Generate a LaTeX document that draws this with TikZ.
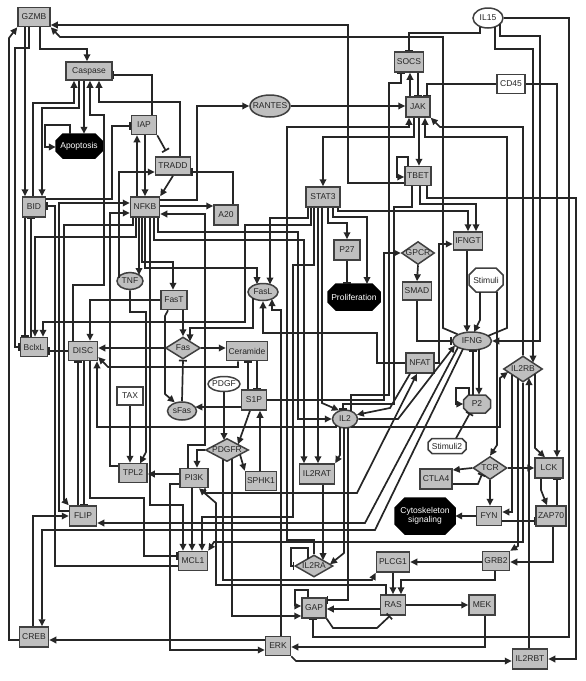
\documentclass[tikz,border=0pt]{standalone}
\usepackage{fontspec}
\setmainfont{Liberation Sans}
\usetikzlibrary{arrows.meta,shapes.geometric}
\newcommand\myoct[6]{\filldraw[#6] ({#1-#3/2+#5},{#2-#4/2}) -- ({#1+#3/2-#5},{#2-#4/2}) -- ({#1+#3/2},{#2-#4/2+#5}) -- ({#1+#3/2},{#2+#4/2-#5}) -- ({#1+#3/2-#5},{#2+#4/2}) -- ({#1-#3/2+#5},{#2+#4/2}) -- ({#1-#3/2},{#2+#4/2-#5}) -- ({#1-#3/2},{#2-#4/2+#5}) -- cycle;}
\begin{document}
\begin{tikzpicture}[x=1pt,y=-1pt,
  every node/.style={font=\fontsize{8.5}{9.5}\selectfont, text=black!85},
  sz/.style 2 args={minimum width=#1, minimum height=#2},
  bx/.style={rectangle, draw=black!75, line width=1.5pt, fill=gray!50, inner sep=0pt},
  wbx/.style={bx, fill=white},
  el/.style={ellipse, draw=black!75, line width=1.5pt, fill=gray!50, inner sep=0pt},
  wel/.style={el, fill=white},
  dia/.style={diamond, draw=black!75, line width=1.5pt, fill=gray!50, inner sep=0pt},
  octg/.style={draw=black!75, line width=1.5pt, fill=gray!50},
  octw/.style={draw=black!75, line width=1.5pt, fill=white},
  octb/.style={draw=black, line width=1.5pt, fill=black},
  onode/.style={rectangle, inner sep=0pt, align=center},
  ln/.style={draw=black!85, line width=1.7pt},
  act/.style={ln, -{Triangle[length=7pt,width=6.5pt]}},
  inh/.style={ln, -{Bar[width=8pt]}}]
\useasboundingbox (0,0) rectangle (586,681);

% ---------- nodes ----------
\node[bx,sz={32pt}{19pt}] (GZMB) at (34,17) {GZMB};
\node[bx,sz={46pt}{18pt}] (Casp) at (89,71) {Caspase};
\myoct{79}{146}{46}{24}{7}{octb}
\node[onode,sz={46pt}{24pt},text=white] (Apop) at (79,146) {Apoptosis};
\node[bx,sz={25pt}{19pt}] (IAP) at (144,125) {IAP};
\node[bx,sz={35pt}{18pt}] (TRADD) at (173,166) {TRADD};
\node[el,sz={40pt}{22pt},label=center:RANTES] (RANTES) at (270,106) {};
\node[bx,sz={23pt}{20pt}] (BID) at (34,207) {BID};
\node[bx,sz={29pt}{20pt}] (NFKB) at (145,207) {NFKB};
\node[bx,sz={24pt}{20pt}] (A20) at (226,215) {A20};
\node[wel,sz={30pt}{20pt},label=center:IL15] (IL15) at (488,18) {};
\node[bx,sz={29pt}{20pt}] (SOCS) at (409,62) {SOCS};
\node[wbx,sz={28pt}{19pt}] (CD45) at (511,84) {CD45};
\node[bx,sz={24pt}{20pt}] (JAK) at (418,107) {JAK};
\node[bx,sz={26pt}{19pt}] (TBET) at (418,176) {TBET};
\node[bx,sz={34pt}{20pt}] (STAT3) at (323,197) {STAT3};
\node[bx,sz={26pt}{20pt}] (P27) at (347,250) {P27};
\myoct{354}{297}{52}{26}{8}{octb}
\node[onode,sz={52pt}{26pt},text=white] (Prolif) at (354,297) {Proliferation};
\node[dia,sz={33pt}{23pt},label=center:GPCR] (GPCR) at (418,253) {};
\node[bx,sz={29pt}{18pt}] (SMAD) at (417,291) {SMAD};
\node[bx,sz={29pt}{18pt}] (IFNGT) at (468,241) {IFNGT};
\myoct{486}{280}{34}{24}{7}{octw}
\node[onode,sz={34pt}{24pt}] (Stim) at (486,280) {Stimuli};
\node[el,sz={39pt}{18pt},label=center:IFNG] (IFNG) at (472,341) {};
\node[bx,sz={28pt}{20pt}] (NFAT) at (420,363) {NFAT};
\node[dia,sz={39pt}{26pt},label=center:IL2RB] (IL2RB) at (523,369) {};
\myoct{477}{404}{27}{18}{5}{octg}
\node[onode,sz={27pt}{18pt}] (P2) at (477,404) {P2};
\node[el,sz={25pt}{18pt},label=center:IL2] (IL2) at (345,419) {};
\myoct{447}{446}{38}{15}{4}{octw}
\node[onode,sz={38pt}{15pt}] (Stim2) at (447,446) {Stimuli2};
\node[el,sz={26pt}{17pt},label=center:TNF] (TNF) at (130,281) {};
\node[bx,sz={26pt}{19pt}] (FasT) at (174,300) {FasT};
\node[el,sz={30pt}{17pt},label=center:FasL] (FasL) at (263,292) {};
\node[bx,sz={27pt}{19pt}] (BclxL) at (34,347) {BclxL};
\node[bx,sz={29pt}{19pt}] (DISC) at (83,351) {DISC};
\node[dia,sz={35pt}{22pt},label=center:Fas] (Fas) at (183,348) {};
\node[bx,sz={41pt}{19pt}] (Ceram) at (247,351) {Ceramide};
\node[wel,sz={32pt}{15pt},label=center:PDGF] (PDGF) at (224,384) {};
\node[wbx,sz={26pt}{18pt}] (TAX) at (130,396) {TAX};
\node[bx,sz={25pt}{20pt}] (S1P) at (254,400) {S1P};
\node[el,sz={29pt}{18pt},label=center:sFas] (sFas) at (182,411) {};
\node[dia,sz={43pt}{23pt},label=center:PDGFR] (PDGFR) at (227,450) {};
\node[bx,sz={28pt}{19pt}] (TPL2) at (133,473) {TPL2};
\node[bx,sz={28pt}{19pt}] (PI3K) at (194,478) {PI3K};
\node[bx,sz={31pt}{19pt}] (SPHK1) at (261,481) {SPHK1};
\node[bx,sz={35pt}{20pt}] (IL2RAT) at (317,474) {IL2RAT};
\node[dia,sz={34pt}{23pt},label=center:TCR] (TCR) at (490,468) {};
\node[bx,sz={32pt}{20pt}] (CTLA4) at (436,479) {CTLA4};
\node[bx,sz={28pt}{20pt}] (LCK) at (549,468) {LCK};
\myoct{425}{516}{60}{36}{10}{octb}
\node[onode,sz={60pt}{36pt},text=white] (Cyto) at (425,516) {Cytoskeleton\\signaling};
\node[bx,sz={25pt}{19pt}] (FYN) at (489,516) {FYN};
\node[bx,sz={30pt}{20pt}] (ZAP70) at (551,516) {ZAP70};
\node[bx,sz={27pt}{20pt}] (FLIP) at (83,516) {FLIP};
\node[bx,sz={29pt}{19pt}] (MCL1) at (193,561) {MCL1};
\node[dia,sz={38pt}{22pt},label=center:IL2RA] (IL2RA) at (314,566) {};
\node[bx,sz={33pt}{20pt}] (PLCG1) at (393,562) {PLCG1};
\node[bx,sz={27pt}{19pt}] (GRB2) at (496,561) {GRB2};
\node[bx,sz={24pt}{20pt}] (GAP) at (314,608) {GAP};
\node[bx,sz={25pt}{20pt}] (RAS) at (393,605) {RAS};
\node[bx,sz={26pt}{20pt}] (MEK) at (482,605) {MEK};
\node[bx,sz={29pt}{20pt}] (CREB) at (34,637) {CREB};
\node[bx,sz={25pt}{19pt}] (ERK) at (278,646) {ERK};
\node[bx,sz={35pt}{20pt}] (IL2RBT) at (530,659) {IL2RBT};

% ---------- GZMB / Caspase / Apoptosis ----------
\draw[act] (TBET.west |- 0,183) -- (348,183) -- (348,25) -- (GZMB.east |- 0,25);
\draw[act] (IFNG.155) -- (443,328) -- (443,37) -- (60,37) -- (GZMB.south east);
\draw[act] (CREB.west |- 0,640) -- (9,640) -- (9,38) -- (GZMB.south west);
\draw[act] (GZMB.south -| 40,0) -- (40,49) -- (87,49) -- (Casp.north -| 87,0);
\draw[act] (GZMB.south -| 25,0) -- (BID.north -| 25,0);
\draw[inh] (GZMB.south -| 29,0) -- (29,48) -- (15,48) -- (15,347) -- (BclxL.west |- 0,347);
\draw[act] (BID.north -| 33,0) -- (33,103) -- (74,103) -- (Casp.south -| 74,0);
\draw[act] (Casp.south -| 79,0) -- (79,108) -- (42,108) -- (BID.north -| 42,0);
\draw[act] (DISC.north -| 73,0) -- (73,285) -- (104,285) -- (104,115) -- (90,115) -- (Casp.south -| 90,0);
\draw[act] (TRADD.north -| 180,0) -- (180,102) -- (99,102) -- (Casp.south -| 99,0);
\draw[inh] (IAP.north -| 152,0) -- (152,75) -- (Casp.east |- 0,75);
\draw[act] (Casp.south -| 84,0) -- (Apop.north -| 84,0);
\draw[act] (Apop.north -| 70,0) -- (70,125) -- (45,125) -- (45,147) -- (Apop.west |- 0,147);

% ---------- IAP / TRADD / NFKB ----------
\draw[act] (NFKB.north -| 137,0) -- (IAP.south -| 137,0);
\draw[act] (IAP.south -| 145,0) -- (NFKB.north -| 145,0);
\draw[inh] (IAP.south east) -- (166,151);
\draw[inh] (BID.east |- 0,199) -- (112,199) -- (112,126) -- (IAP.west |- 0,126);
\draw[act] (TRADD.south) -- (NFKB.north east);
\draw[inh] (A20.north -| 233,0) -- (233,172) -- (TRADD.east |- 0,172);
\draw[act] (TNF.north west |- 0,277) -- (119,277) -- (119,172) -- (TRADD.west |- 0,172);
\draw[act] (NFKB.east |- 0,200) -- (197,200) -- (197,106) -- (RANTES.west);
\draw[act] (NFKB.east |- 0,206) -- (A20.west |- 0,206);
\draw[act] (RANTES.east) -- (JAK.west |- RANTES.east);
\draw[act] (FLIP.west |- 0,511) -- (59,511) -- (59,203) -- (NFKB.west |- 0,203);
\draw[act] (TPL2.west |- 0,466) -- (110,466) -- (110,213) -- (NFKB.west |- 0,213);
\draw[act] (PI3K.north -| 188,0) -- (188,445) -- (205,445) -- (205,214) -- (NFKB.east |- 0,214);
\draw[act] (NFKB.south -| 133,0) -- (133,225) -- (64,225) -- (64,500) -- (FLIP.north west);
\draw[act] (NFKB.south -| 136,0) -- (136,237) -- (35,237) -- (BclxL.north -| 35,0);
\draw[act] (NFKB.south -| 139,0) -- (139,275);
\draw[act] (NFKB.south -| 142,0) -- (142,262) -- (173,262) -- (FasT.north -| 173,0);
\draw[act] (NFKB.south -| 145,0) -- (145,268) -- (257,268) -- (257,284.2);
\draw[act] (NFKB.south -| 150,0) -- (150,505) -- (183,505) -- (MCL1.north -| 183,0);
\draw[act] (NFKB.south -| 154,0) -- (154,240) -- (304,240) -- (IL2RAT.north -| 304,0);
\draw[act] (NFKB.south -| 158,0) -- (158,232) -- (298,232) -- (298,419) -- (IL2.west);

% ---------- Fas module ----------
\draw[act] (FasT.south -| 183,0) -- (Fas.north);
\draw[act] (FasT.west |- 0,300) -- (90,300) -- (DISC.north -| 90,0);
\draw[act] (FasT.south -| 168,0) -- (165,316) -- (165,394) -- (sFas.130);
\draw[act] (253,298.3) -- (253,328) -- (190,328) -- (190,341.4);
\draw[act] (Fas.west) -- (DISC.east |- Fas.west);
\draw[act] (Fas.east) -- (Ceram.west |- Fas.east);
\draw[inh] (sFas.north) -- (Fas.south);
\draw[act] (S1P.west |- 0,407) -- (195.3,407);
\draw[act] (Ceram.south -| 238,0) -- (238,367) -- (108,367) -- (DISC.east |- 0,357);
\draw[inh] (S1P.north -| 248,0) -- (Ceram.south -| 248,0);
\draw[inh] (Ceram.south -| 257,0) -- (S1P.north -| 257,0);
\draw[act] (PDGF.south -| 224,0) -- (224,440);
\draw[act] (S1P.south -| 250,0) -- (238,444.4);
\draw[act] (240,454.5) -- (SPHK1.north west);
\draw[act] (SPHK1.north -| 260,0) -- (S1P.south -| 260,0);
\draw[act] (PDGFR.west) -- (197,450) -- (PI3K.north -| 197,0);
\draw[act] (S1P.east |- 0,400) -- (384,400) -- (384,253) -- (GPCR.west);
\draw[act] (GPCR.south) -- (SMAD.north);

% ---------- TPL2 / PI3K ----------
\draw[act] (PI3K.west |- 0,474) -- (TPL2.east |- 0,474);
\draw[act] (TAX.south) -- (TPL2.north -| TAX.south);
\draw[act] (TNF.south) -- (130,312) -- (146,312) -- (146,452) -- (140,463.5);
\draw[act] (PI3K.south -| 192,0) -- (MCL1.north -| 192,0);
\draw[act] (PI3K.west |- 0,484) -- (170,484) -- (170,650) -- (ERK.west |- 0,650);
\draw[act] (PI3K.south -| 205,0) -- (205,493) -- (357,493) -- (NFAT.south -| 417,0);
\draw[act] (RAS.north -| 386,0) -- (386,585) -- (216,585) -- (216,503) -- (PI3K.south -| 199,0);

% ---------- PDGFR / GAP / RAS ----------
\draw[act] (223,459.4) -- (223,580) -- (372,580) -- (PLCG1.south west);
\draw[act] (232,458.8) -- (232,616) -- (GAP.west |- 0,616);
\draw[act] (GAP.north -| 308,0) -- (308,590) -- (295,590) -- (295,606) -- (GAP.west |- 0,606);
\draw[act] (RAS.west |- 0,609) -- (GAP.east |- 0,609);
\draw[inh] (GAP.south east) -- (333,628) -- (377,628) -- (RAS.south -| 390,0);
\draw[inh] (348,427.7) -- (348,600) -- (GAP.east |- 0,600);
\draw[inh] (IL15.east) -- (569,18) -- (569,637) -- (313,637) -- (GAP.south -| 313,0);
\draw[act] (PLCG1.south -| 393,0) -- (RAS.north -| 393,0);
\draw[act] (GRB2.south -| 495,0) -- (495,580) -- (401,580) -- (RAS.north -| 401,0);
\draw[act] (GRB2.west |- 0,562) -- (PLCG1.east |- 0,562);
\draw[act] (RAS.east |- 0,605) -- (MEK.west |- 0,605);
\draw[act] (MEK.south -| 485,0) -- (485,647) -- (ERK.east |- 0,647);
\draw[act] (ERK.west |- 0,640) -- (CREB.east |- 0,640);
\draw[act] (ERK.south east) -- (296,661) -- (IL2RBT.west |- 0,661);
\draw[act] (ERK.north -| 281,0) -- (281,310) -- (272,310) -- (272,299);

% ---------- IL2RB / IL2RBT / TCR ----------
\draw[act] (TBET.south -| 427,0) -- (427,198) -- (576,198) -- (576,659) -- (IL2RBT.east |- 0,659);
\draw[act] (IL2RBT.north -| 529,0) -- (529,378);
\draw[act] (512,374.7) -- (512,512) -- (FYN.east |- 0,512);
\draw[act] (518,378.7) -- (518,546) -- (GRB2.north east);
\draw[act] (IL2RB.south) -- (523,542) -- (214,542) -- (MCL1.north east);
\draw[act] (535,374) -- (535,448) -- (LCK.north -| 545,0);
\draw[act] (IL2RB.north) -- (523,127) -- (440,127) -- (JAK.south east);
\draw[act] (495,26.8) -- (495,49) -- (533,49) -- (533,362.7);
\draw[act] (500,24) -- (500,36) -- (540,36) -- (540,341) -- (IFNG.east);
\draw[inh] (480,26.5) -- (480,33) -- (409,33) -- (SOCS.north -| 409,0);
\draw[inh] (CD45.west |- 0,84) -- (427,84) -- (JAK.north -| 427,0);
\draw[act] (CD45.east) -- (557,84) -- (LCK.north -| 557,0);
\draw[act] (TCR.east) -- (LCK.west |- TCR.east);
\draw[act] (TCR.south) -- (FYN.north -| TCR.south);
\draw[act] (TCR.west) -- (CTLA4.east |- 0,470);
\draw[inh] (CTLA4.east |- 0,484) -- (478,484) -- (482,474.1);
\draw[act] (LCK.south -| 541,0) -- (541,490) -- (ZAP70.north -| 547,0);
\draw[inh] (ZAP70.north -| 557,0) -- (LCK.south -| 557,0);
\draw[inh] (FYN.east |- 0,521) -- (ZAP70.west |- 0,521);
\draw[act] (FYN.west) -- (Cyto.east);
\draw[act] (ZAP70.south -| 553,0) -- (553,562) -- (GRB2.east |- 0,562);

% ---------- JAK / SOCS / TBET / STAT3 ----------
\draw[act] (JAK.north -| 410,0) -- (SOCS.south -| 410,0);
\draw[inh] (SOCS.south -| 418,0) -- (JAK.north -| 418,0);
\draw[inh] (351,411.1) -- (351,395) -- (389,395) -- (389,83) -- (401,83) -- (SOCS.south -| 401,0);
\draw[inh] (TBET.south -| 412,0) -- (412,207) -- (394,207) -- (394,404) -- (343,404) -- (343,410.1);
\draw[act] (JAK.south -| 414,0) -- (414,137) -- (323,137) -- (STAT3.north -| 323,0);
\draw[act] (JAK.south -| 419,0) -- (TBET.north -| 419,0);
\draw[act] (488,335.9) -- (507,328) -- (507,137) -- (425,137) -- (JAK.south -| 425,0);
\draw[act] (IL2RA.north) -- (314,540) -- (287,540) -- (287,127) -- (409,127) -- (JAK.south -| 409,0);
\draw[act] (TBET.north -| 408,0) -- (408,157) -- (397,157) -- (397,177) -- (TBET.west |- 0,177);
\draw[act] (STAT3.south -| 308,0) -- (308,218) -- (270,218) -- (270,284.5);
\draw[act] (STAT3.south -| 311,0) -- (311,225) -- (245,225) -- (245,322) -- (43,322) -- (BclxL.north -| 43,0);
\draw[act] (STAT3.south -| 314,0) -- (314,265) -- (293,265) -- (293,517) -- (202,517) -- (MCL1.north -| 202,0);
\draw[act] (STAT3.south -| 318,0) -- (IL2RAT.north -| 318,0);
\draw[act] (STAT3.south -| 322,0) -- (322,403) -- (IL2.125);
\draw[act] (STAT3.south -| 328,0) -- (328,223) -- (347,223) -- (P27.north);
\draw[act] (STAT3.south -| 333,0) -- (333,217) -- (367,217) -- (367,284);
\draw[act] (STAT3.south -| 338,0) -- (338,211) -- (468,211) -- (IFNGT.north -| 468,0);
\draw[inh] (P27.south) -- (347,284);
\draw[act] (TBET.south -| 420,0) -- (420,204) -- (476,204) -- (IFNGT.north -| 476,0);

% ---------- IFNG / P2 / NFAT / IL2 ----------
\draw[act] (IFNGT.south -| 467,0) -- (467,332.3);
\draw[act] (Stim.south -| 480,0) -- (480,320) -- (474,332.1);
\draw[act] (Stim.south -| 497,0) -- (497,445) -- (TCR.north);
\draw[inh] (SMAD.south) -- (417,341) -- (IFNG.west);
\draw[act] (NFAT.east |- 0,363) -- (439,363) -- (439,244) -- (IFNGT.west |- 0,244);
\draw[act] (NFAT.west |- 0,363) -- (377,363) -- (377,333) -- (263,333) -- (FasL.south);
\draw[act] (479,349.4) -- (P2.north -| 479,0);
\draw[inh] (P2.north -| 473,0) -- (473,349.8);
\draw[act] (P2.north -| 469,0) -- (469,388) -- (456,388) -- (456,404) -- (P2.west);
\draw[inh] (Stim2.north -| 456,0) -- (470,413);
\draw[act] (IL2.east) -- (398,419) -- (455,345.4);
\draw[act] (NFAT.south -| 410,0) -- (390,408) -- (IL2.20);
\draw[act] (352,426.5) -- (352,427) -- (500,427) -- (500,378) -- (508,372);
\draw[act] (336,425.2) -- (336,427) -- (97,427) -- (DISC.south -| 97,0);
\draw[act] (340,427.2) -- (340,455) -- (IL2RAT.north east);
\draw[act] (344,427.6) -- (344,553) -- (330,564.3);
\draw[act] (IL2RAT.south -| 323,0) -- (323,560.2);
\draw[inh] (308,558.5) -- (308,548) -- (291,548) -- (291,566) -- (IL2RA.west);
\draw[act] (458,347.3) -- (365,523) -- (FLIP.east |- 0,523);
\draw[act] (463,349) -- (375,530) -- (42,530) -- (CREB.north -| 42,0);

% ---------- BID / BclxL / DISC / FLIP / MCL1 ----------
\draw[inh] (BID.south -| 25,0) -- (BclxL.north -| 25,0);
\draw[inh] (BclxL.north -| 31,0) -- (BID.south -| 31,0);
\draw[inh] (DISC.west) -- (BclxL.east |- DISC.west);
\draw[inh] (MCL1.west |- 0,566) -- (55,566) -- (55,206) -- (BID.east |- 0,206);
\draw[inh] (FLIP.north -| 78,0) -- (DISC.south -| 78,0);
\draw[inh] (DISC.south -| 84,0) -- (FLIP.north -| 84,0);
\draw[inh] (DISC.south -| 90,0) -- (90,498) -- (144,498) -- (144,556) -- (MCL1.west |- 0,556);
\draw[act] (CREB.north -| 33,0) -- (33,516) -- (FLIP.west |- 0,516);
\end{tikzpicture}
\end{document}
